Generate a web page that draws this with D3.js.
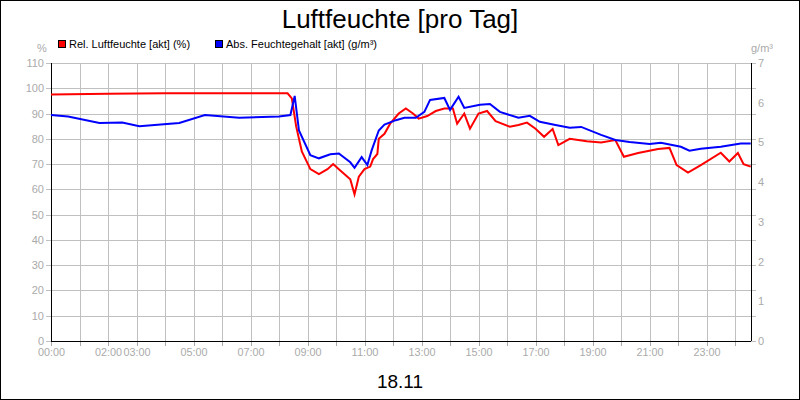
<!DOCTYPE html>
<html><head><meta charset="utf-8">
<script src="https://cdn.jsdelivr.net/npm/d3@7"></script>
<style>body{margin:0;background:#fff}svg{display:block;font-family:"Liberation Sans",Arial,sans-serif}</style>
</head><body><svg id="c" width="800" height="400"></svg>
<script>
const title = "Luftfeuchte [pro Tag]";
const dateLabel = "18.11";
const seriesNames = ["Rel. Luftfeuchte [akt] (%)", "Abs. Feuchtegehalt [akt] (g/m³)"];
const xTickHours = [0,2,3,5,7,9,11,13,15,17,19,21,23];
const leftTicks = [0,10,20,30,40,50,60,70,80,90,100,110];
const rightTicks = [0,1,2,3,4,5,6,7];
const relHours = [0,2,4,6,8.3,8.45,8.6,8.8,9.1,9.4,9.7,9.9,10.1,10.3,10.5,10.6,10.65,10.8,11.0,11.2,11.3,11.45,11.5,11.7,11.9,12.2,12.45,12.7,12.9,13.2,13.5,13.8,14.1,14.25,14.5,14.7,15.0,15.3,15.6,16.1,16.4,16.7,17.0,17.3,17.6,17.8,18.2,18.8,19.3,19.8,20.1,20.6,21.3,21.7,21.95,22.35,22.8,23.5,23.8,24.1,24.3,24.55];
const relValues = [97.5,97.8,98,98,98,96,85,75,68,66,68,70,68,66,64,60,58,65,68,69,72,74,80,82,86,90,92,90,88,89,91,92,92,86,90,84,90,91,87,84.8,85.5,86.4,84,80.8,83.9,77.5,80,79,78.5,79.5,72.9,74.4,76,76.4,69.6,66.6,69.6,74.5,71,74.4,70,69];
const absHours = [0,0.6,1.7,2.5,3.1,4.5,5.4,6.6,8.0,8.4,8.55,8.7,9.1,9.4,9.8,10.1,10.5,10.65,10.9,11.1,11.25,11.5,11.7,12.1,12.4,12.8,13.1,13.3,13.8,14.0,14.3,14.5,15.05,15.4,15.75,16.4,16.8,17.15,17.7,18.2,18.6,19.3,19.8,20.3,21.0,21.4,22.1,22.4,22.8,23.5,24.2,24.55];
const absValues = [5.69,5.65,5.49,5.5,5.41,5.49,5.69,5.62,5.65,5.69,6.17,5.3,4.68,4.6,4.7,4.72,4.5,4.36,4.63,4.43,4.8,5.3,5.45,5.56,5.62,5.62,5.77,6.07,6.12,5.82,6.15,5.87,5.95,5.97,5.77,5.62,5.67,5.52,5.44,5.37,5.39,5.19,5.06,5.01,4.96,4.99,4.89,4.79,4.84,4.89,4.97,4.97];

const svg = d3.select("#c");
const L=51,R=751,T=63,B=341;
const x = d3.scaleLinear().domain([0,24.56]).range([L,R]);
const yL = d3.scaleLinear().domain([0,110]).range([B,T]);
const yR = d3.scaleLinear().domain([0,7]).range([B,T]);
svg.append("rect").attr("x",0.5).attr("y",0.5).attr("width",799).attr("height",399).attr("fill","#fff").attr("stroke","#000");
svg.append("text").attr("x",400).attr("y",28).attr("text-anchor","middle").attr("font-size",26).text(title);
const grid = svg.append("g").attr("stroke","#c0c0c0").attr("shape-rendering","crispEdges");
d3.range(1,25).forEach(h=>grid.append("line").attr("x1",Math.round(x(h))+.5).attr("x2",Math.round(x(h))+.5).attr("y1",T).attr("y2",B));
leftTicks.forEach(v=>grid.append("line").attr("x1",L-5).attr("x2",R+5).attr("y1",Math.round(yL(v))+.5).attr("y2",Math.round(yL(v))+.5));
const gL = svg.append("g").attr("transform",`translate(${L-4},0)`).call(d3.axisLeft(yL).tickValues(leftTicks).tickSize(0).tickPadding(3));
const gR = svg.append("g").attr("transform",`translate(${R+4},0)`).call(d3.axisRight(yR).tickValues(rightTicks).tickSize(0).tickPadding(3).tickFormat(d3.format("d")));
const gX = svg.append("g").attr("transform",`translate(0,${B+4})`).call(d3.axisBottom(x).tickValues(xTickHours).tickSize(0).tickPadding(4).tickFormat(h=>String(h).padStart(2,"0")+":00"));
[gL,gR].forEach(g=>{g.select(".domain").remove();g.selectAll("text").attr("fill","#aaa").attr("font-size",11).attr("font-family","'Liberation Sans',Arial,sans-serif");});
gX.select(".domain").remove();
gX.selectAll("text").attr("fill","#aaa").attr("font-size",10).attr("textLength",27).attr("lengthAdjust","spacingAndGlyphs").attr("font-family","'Liberation Sans',Arial,sans-serif");
svg.append("g").attr("stroke","#aaa").selectAll("line").data(d3.range(0,25)).join("line")
  .attr("x1",h=>Math.round(x(h))+.5).attr("x2",h=>Math.round(x(h))+.5).attr("y1",B).attr("y2",B+5);
const fr = svg.append("g").attr("stroke","#000").attr("shape-rendering","crispEdges");
fr.append("line").attr("x1",L+.5).attr("x2",L+.5).attr("y1",T).attr("y2",B);
fr.append("line").attr("x1",R+.5).attr("x2",R+.5).attr("y1",T).attr("y2",B);
fr.append("line").attr("x1",L).attr("x2",R).attr("y1",B+.5).attr("y2",B+.5);
svg.append("text").attr("x",42).attr("y",52).attr("text-anchor","middle").attr("fill","#aaa").attr("font-size",11).text("%");
svg.append("text").attr("x",762).attr("y",52).attr("text-anchor","middle").attr("fill","#aaa").attr("font-size",11).text("g/m³");
const lg=[[58,"#f00",seriesNames[0]],[215,"#00f",seriesNames[1]]];
lg.forEach(([lx,c,t])=>{svg.append("rect").attr("x",lx+.5).attr("y",40.5).attr("width",7).attr("height",7).attr("fill",c).attr("stroke","#000");
 svg.append("text").attr("x",lx+11).attr("y",48).attr("font-size",11).text(t);});
const relData = relHours.map((h,i)=>[h,relValues[i]]);
const absData = absHours.map((h,i)=>[h,absValues[i]]);
svg.append("path").datum(relData).attr("fill","none").attr("stroke","#f00").attr("stroke-width",2)
  .attr("d",d3.line().x(d=>x(d[0])).y(d=>yL(d[1])));
svg.append("path").datum(absData).attr("fill","none").attr("stroke","#00f").attr("stroke-width",2)
  .attr("d",d3.line().x(d=>x(d[0])).y(d=>yR(d[1])));
svg.append("text").attr("x",400).attr("y",388).attr("text-anchor","middle").attr("font-size",19).text(dateLabel);
</script></body></html>
